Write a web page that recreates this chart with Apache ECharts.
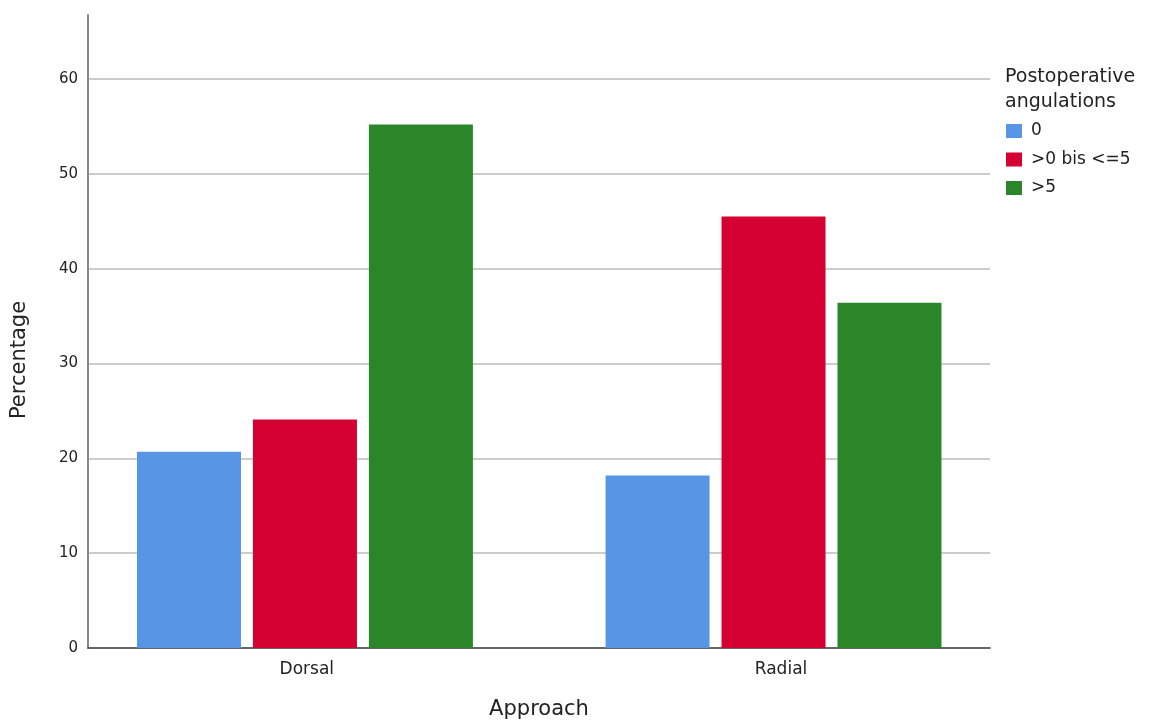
<!DOCTYPE html>
<html><head><meta charset="utf-8">
<script src="https://cdn.jsdelivr.net/npm/echarts@6/dist/echarts.min.js"></script>
<style>html,body{margin:0;padding:0;background:#fff}#c{width:1158px;height:720px}</style>
</head><body><div id="c"></div>
<script>
const categories = ['Dorsal', 'Radial'];
const seriesNames = ['0', '>0 bis <=5', '>5'];
const valsZero = [20.7, 18.2];
const valsMid = [24.1, 45.5];
const valsHigh = [55.2, 36.4];
const yTicks = [0, 10, 20, 30, 40, 50, 60];
const colors = ['#5896E5', '#D50032', '#2A8629'];
const FONT = 'DejaVu Sans';

const chart = echarts.init(document.getElementById('c'));
const mk = (name, vals, color) => ({
  name, type: 'bar', barWidth: 104, barGap: '11.5%',
  itemStyle: { color },
  data: vals.map((v, i) => [i, v])
});
chart.setOption({
  animation: false,
  backgroundColor: '#fff',
  textStyle: { fontFamily: FONT },
  grid: { left: 88, right: 168, top: 15, bottom: 72, outerBoundsMode: 'none', containLabel: false },
  title: {
    text: 'Postoperative\nangulations', left: 1000, top: 60,
    textStyle: { fontFamily: FONT, fontSize: 19, fontWeight: 'normal', color: '#222', lineHeight: 25 }
  },
  legend: {
    orient: 'vertical', left: 1001, top: 117.5, itemWidth: 16, itemHeight: 14, itemGap: 11.5,
    icon: 'rect', data: seriesNames,
    textStyle: { fontFamily: FONT, fontSize: 17, lineHeight: 15, color: '#222', padding: [0, 0, 0, 4] }
  },
  xAxis: {
    type: 'value', min: -0.463, max: 1.462,
    name: 'Approach', nameLocation: 'middle', nameGap: 51,
    nameTextStyle: { fontFamily: FONT, fontSize: 21, color: '#222' },
    axisLine: { show: true, onZero: false, lineStyle: { color: '#444', width: 1.5 } },
    axisTick: { show: false },
    splitLine: { show: false },
    axisLabel: {
      customValues: [0.004, 1.016], fontSize: 17, color: '#222', margin: 13,
      formatter: v => categories[Math.round(v)]
    }
  },
  yAxis: {
    type: 'value', min: 0, max: 66.75, interval: 10,
    axisLine: { show: true, onZero: false, lineStyle: { color: '#888', width: 2 } },
    axisTick: { show: false },
    splitLine: { show: true, showMaxLine: false, lineStyle: { color: '#bbb', width: 1.5 } },
    axisLabel: {
      fontSize: 15, color: '#222', margin: 10, showMaxLabel: false, padding: [5, 0, 0, 0],
      formatter: v => (yTicks.includes(v) ? String(v) : '')
    }
  },
  graphic: [{
    type: 'text', x: 20, y: 360, rotation: Math.PI / 2,
    style: { text: 'Percentage', fontFamily: FONT, fontSize: 21, fill: '#222', align: 'center', verticalAlign: 'middle' }
  }],
  series: [
    mk(seriesNames[0], valsZero, colors[0]),
    mk(seriesNames[1], valsMid, colors[1]),
    mk(seriesNames[2], valsHigh, colors[2])
  ]
});
</script></body></html>
